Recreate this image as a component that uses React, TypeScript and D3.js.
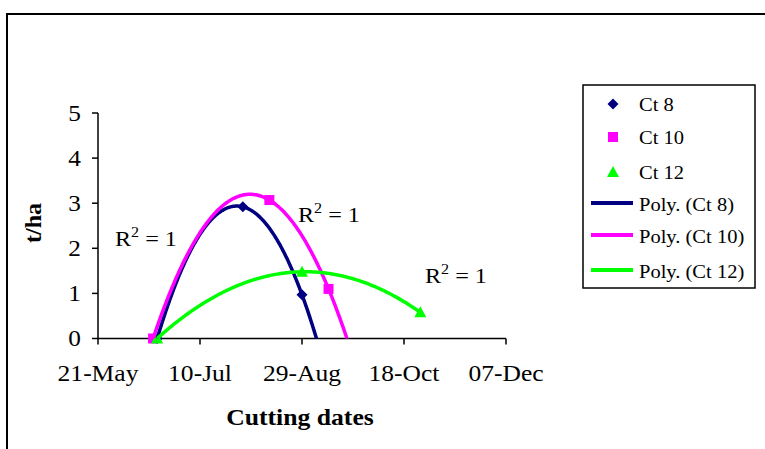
import React from "react";
import * as d3 from "d3";

const seriesNames = ["Ct 8", "Ct 10", "Ct 12"];
const ct8Dates = ["2005-06-19", "2005-07-31", "2005-08-29"];
const ct8Values = [0, 2.92, 0.97];
const ct10Dates = ["2005-06-17", "2005-08-13", "2005-09-11"];
const ct10Values = [0, 3.07, 1.1];
const ct12Dates = ["2005-06-19", "2005-08-29", "2005-10-26"];
const ct12Values = [0, 1.48, 0.58];
const forecastDays = [10, 10, 0];
const xTickDates = ["2005-05-21", "2005-07-10", "2005-08-29", "2005-10-18", "2005-12-07"];
const xTickLabels = ["21-May", "10-Jul", "29-Aug", "18-Oct", "07-Dec"];
const yTicks = [0, 1, 2, 3, 4, 5];
const colors = ["#000080", "#FF00FF", "#00FF00"];

const DAY = 86400000;
const parse = (s: string) => new Date(s + "T00:00:00Z");
const font = "'Liberation Serif', 'Times New Roman', serif";

function lagrange(xs: number[], ys: number[], x: number) {
  let s = 0;
  for (let i = 0; i < xs.length; i++) {
    let p = ys[i];
    for (let j = 0; j < xs.length; j++) if (j !== i) p *= (x - xs[j]) / (xs[i] - xs[j]);
    s += p;
  }
  return s;
}

function T(props: {
  x: number;
  y: number;
  sx?: number;
  size: number;
  anchor?: string;
  bold?: boolean;
  rotate?: number;
  children: React.ReactNode;
}) {
  const { x, y, sx = 1, size, anchor = "start", bold, rotate = 0, children } = props;
  return (
    <text
      transform={`translate(${x},${y}) rotate(${rotate}) scale(${sx},1)`}
      textAnchor={anchor}
      fontFamily={font}
      fontSize={size}
      fontWeight={bold ? "bold" : "normal"}
      fill="#000"
    >
      {children}
    </text>
  );
}

export default function App() {
  const x = d3.scaleUtc().domain([parse("2005-05-21"), parse("2005-12-07")]).range([98, 506]);
  const y = d3.scaleLinear().domain([0, 5]).range([338.5, 113]);
  const series = [
    { dates: ct8Dates.map(parse), values: ct8Values },
    { dates: ct10Dates.map(parse), values: ct10Values },
    { dates: ct12Dates.map(parse), values: ct12Values },
  ];

  const trend = series.map((s, i) => {
    const xs = s.dates.map((d) => d.getTime() / DAY);
    const t0 = xs[0];
    const t1 = xs[xs.length - 1] + forecastDays[i];
    const pts: [number, number][] = d3.range(0, 201).map((k) => {
      const t = t0 + ((t1 - t0) * k) / 200;
      return [t, lagrange(xs, s.values, t)];
    });
    const line = d3
      .line<[number, number]>()
      .x((p) => x(new Date(p[0] * DAY)))
      .y((p) => y(p[1]));
    return line(pts) || "";
  });

  const marker = (i: number, cx: number, cy: number, key: string) => {
    if (i === 0)
      return <path key={key} d={`M${cx},${cy - 5.5}L${cx + 5.5},${cy}L${cx},${cy + 5.5}L${cx - 5.5},${cy}Z`} fill={colors[0]} />;
    if (i === 1) return <rect key={key} x={cx - 5} y={cy - 5} width={10} height={10} fill={colors[1]} />;
    return <path key={key} d={`M${cx},${cy - 6}L${cx + 6},${cy + 5}L${cx - 6},${cy + 5}Z`} fill={colors[2]} />;
  };

  const r2Pos = [
    [115, 246],
    [298, 222],
    [425, 283],
  ];

  return (
    <svg width={765} height={449} style={{ position: "absolute", left: 0, top: 0, background: "#fff" }}>
      <rect x={0} y={0} width={765} height={449} fill="#fff" />
      <rect x={7} y={14} width={800} height={500} fill="none" stroke="#000" strokeWidth={2} />
      <defs>
        <clipPath id="plotClip">
          <rect x={98} y={100} width={420} height={238.5} />
        </clipPath>
      </defs>
      <line x1={98} x2={98} y1={y(5)} y2={y(0)} stroke="#000" strokeWidth={1.5} />
      <line x1={98} x2={506} y1={y(0)} y2={y(0)} stroke="#000" strokeWidth={1.5} />
      {yTicks.map((t) => (
        <g key={"y" + t}>
          <line x1={92} x2={98} y1={y(t)} y2={y(t)} stroke="#000" strokeWidth={1.5} />
          <T x={81} y={y(t) + 7.5} size={23} sx={1.1} anchor="end">
            {t}
          </T>
        </g>
      ))}
      {xTickDates.map((d, i) => (
        <g key={"x" + i}>
          <line x1={x(parse(d))} x2={x(parse(d))} y1={y(0)} y2={y(0) + 6} stroke="#000" strokeWidth={1.5} />
          <T x={x(parse(d))} y={381} size={23} sx={1.11} anchor="middle">
            {xTickLabels[i]}
          </T>
        </g>
      ))}
      <T x={300} y={425} size={24} sx={1.07} anchor="middle" bold>
        Cutting dates
      </T>
      <T x={41} y={223} size={24} anchor="middle" bold rotate={-90}>
        t/ha
      </T>
      {series.map((s, i) => s.dates.map((d, j) => marker(i, x(d), y(s.values[j]), `m${i}-${j}`)))}
      <g clipPath="url(#plotClip)">
        {trend.map((p, i) => (
          <path key={"t" + i} d={p} fill="none" stroke={colors[i]} strokeWidth={3.5} strokeLinejoin="round" />
        ))}
      </g>
      {r2Pos.map((p, i) => (
        <T key={"r" + i} x={p[0]} y={p[1]} size={21} sx={1.15}>
          R<tspan dy={-9} fontSize={14}>2</tspan>
          <tspan dy={9}> = 1</tspan>
        </T>
      ))}
      <rect x={583} y={85} width={172} height={203} fill="#fff" stroke="#000" strokeWidth={1.5} />
      {seriesNames.map((n, i) => {
        const cy = [104, 137, 172][i];
        return (
          <g key={"lm" + i}>
            {marker(i, 613, cy, "lmk" + i)}
            <T x={639} y={cy + 7} size={19} sx={1.08}>
              {n}
            </T>
          </g>
        );
      })}
      {seriesNames.map((n, i) => {
        const cy = [203, 235, 270][i];
        return (
          <g key={"ll" + i}>
            <line x1={591} x2={633} y1={cy} y2={cy} stroke={colors[i]} strokeWidth={4} />
            <T x={639} y={cy + 8} size={19} sx={1.08}>
              {`Poly. (${n})`}
            </T>
          </g>
        );
      })}
    </svg>
  );
}
